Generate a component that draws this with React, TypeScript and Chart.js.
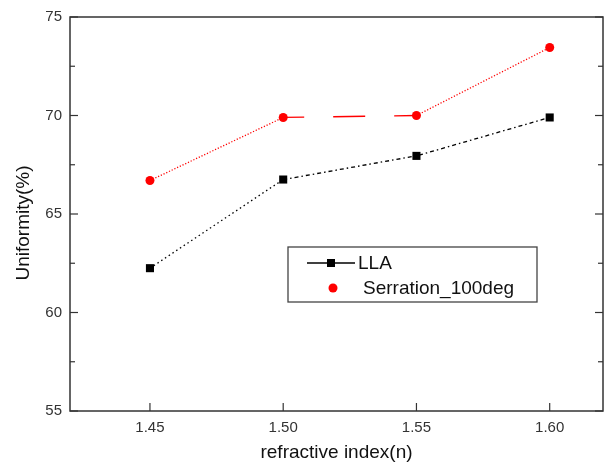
import { useEffect, useRef } from "react";
import { Chart, registerables } from "chart.js";

Chart.register(...registerables);

const refractiveIndex = [1.45, 1.5, 1.55, 1.6];
const llaValues = [62.25, 66.75, 67.95, 69.9];
const serrationValues = [66.7, 69.9, 70.0, 73.45];
const xTickValues = [1.45, 1.5, 1.55, 1.6];
const yTickValues = [55, 60, 65, 70, 75];
const seriesNames = ["LLA", "Serration_100deg"];
const xTitle = "refractive index(n)";
const yTitle = "Uniformity(%)";

const FONT = "'Liberation Sans', Arial, sans-serif";

const line = (ctx: CanvasRenderingContext2D, x1: number, y1: number, x2: number, y2: number) => {
  ctx.beginPath();
  ctx.moveTo(x1, y1);
  ctx.lineTo(x2, y2);
  ctx.stroke();
};

const decorPlugin = {
  id: "decor",
  afterDatasetsDraw(chart: any) {
    const { ctx, chartArea, scales } = chart;
    const { left, right, top, bottom } = chartArea;
    const x = scales.x;
    const y = scales.y;
    ctx.save();
    ctx.strokeStyle = "#333";
    ctx.lineWidth = 1.5;
    ctx.strokeRect(left, top, right - left, bottom - top);
    ctx.lineWidth = 1.2;
    const yt = y.ticks;
    yt.forEach((t: any, i: number) => {
      const py = y.getPixelForValue(t.value);
      line(ctx, left, py, left + 8, py);
      line(ctx, right, py, right - 8, py);
      if (i < yt.length - 1) {
        const pm = y.getPixelForValue((t.value + yt[i + 1].value) / 2);
        line(ctx, left, pm, left + 5, pm);
        line(ctx, right, pm, right - 5, pm);
      }
    });
    x.ticks.forEach((t: any) => {
      const px = x.getPixelForValue(t.value);
      line(ctx, px, bottom, px, bottom - 8);
    });

    // legend
    const bx = 288, by = 247, bw = 249, bh = 55;
    ctx.strokeStyle = "#444";
    ctx.lineWidth = 1.3;
    ctx.strokeRect(bx, by, bw, bh);
    const r1 = by + 16, r2 = by + 41;
    ctx.strokeStyle = "#000";
    ctx.lineWidth = 1.3;
    line(ctx, 307, r1, 355, r1);
    ctx.fillStyle = "#000";
    ctx.fillRect(331 - 4, r1 - 4, 8, 8);
    ctx.fillStyle = "#ff0000";
    ctx.beginPath();
    ctx.arc(333, r2, 4.5, 0, Math.PI * 2);
    ctx.fill();
    ctx.fillStyle = "#111";
    ctx.font = `19px ${FONT}`;
    ctx.textBaseline = "middle";
    ctx.textAlign = "left";
    ctx.fillText(seriesNames[0], 358, r1 + 1);
    ctx.fillText(seriesNames[1], 363, r2 + 1);

    // axis titles
    ctx.textAlign = "center";
    ctx.fillText(xTitle, (left + right) / 2, 453);
    ctx.translate(24, 223);
    ctx.rotate(-Math.PI / 2);
    ctx.fillText(yTitle, 0, 0);
    ctx.restore();
  },
};

export default function App() {
  const ref = useRef<HTMLCanvasElement | null>(null);
  useEffect(() => {
    if (!ref.current) return;
    const chart = new Chart(ref.current, {
      type: "line",
      data: {
        datasets: [
          {
            label: seriesNames[0],
            data: refractiveIndex.map((v, i) => ({ x: v, y: llaValues[i] })),
            borderColor: "#000",
            backgroundColor: "#000",
            borderWidth: 1.3,
            pointStyle: "rect",
            pointRadius: 5.7,
            pointBorderWidth: 0,
            segment: {
              borderDash: (c: any) => (c.p0DataIndex === 0 ? [1.5, 3] : [4, 3, 1.5, 3]),
            },
          },
          {
            label: seriesNames[1],
            data: refractiveIndex.map((v, i) => ({ x: v, y: serrationValues[i] })),
            borderColor: "#ff0000",
            backgroundColor: "#ff0000",
            borderWidth: 1.3,
            pointStyle: "circle",
            pointRadius: 4.5,
            pointBorderWidth: 0,
            segment: {
              borderDash: (c: any) => (c.p0DataIndex === 1 ? [32, 29] : [1.2, 1.8]),
              borderDashOffset: (c: any) => (c.p0DataIndex === 1 ? 11 : 0),
            },
          },
        ],
      },
      options: {
        animation: false,
        responsive: false,
        layout: { padding: { top: 14, right: 6, left: 0, bottom: 0 } },
        plugins: { legend: { display: false }, tooltip: { enabled: false }, title: { display: false } },
        scales: {
          x: {
            type: "linear",
            min: 1.42,
            max: 1.62,
            afterBuildTicks: (s: any) => {
              s.ticks = xTickValues.map((v) => ({ value: v }));
            },
            afterFit: (s: any) => {
              s.height = 58;
            },
            ticks: {
              callback: (v: any) => Number(v).toFixed(2),
              font: { family: FONT, size: 15 },
              color: "#333",
              padding: 8,
              maxRotation: 0,
              autoSkip: false,
            },
            grid: { display: false, drawTicks: false },
            border: { display: false },
          },
          y: {
            type: "linear",
            min: 55,
            max: 75,
            afterBuildTicks: (s: any) => {
              s.ticks = yTickValues.map((v) => ({ value: v }));
            },
            afterFit: (s: any) => {
              s.width = 70;
            },
            ticks: {
              font: { family: FONT, size: 15 },
              color: "#333",
              padding: 8,
              autoSkip: false,
            },
            grid: { display: false, drawTicks: false },
            border: { display: false },
          },
        },
      },
      plugins: [decorPlugin],
    });
    return () => chart.destroy();
  }, []);
  return (
    <div style={{ position: "fixed", left: 0, top: 0, width: 609, height: 469, background: "#fff" }}>
      <canvas ref={ref} width={609} height={469} style={{ display: "block" }} />
    </div>
  );
}
